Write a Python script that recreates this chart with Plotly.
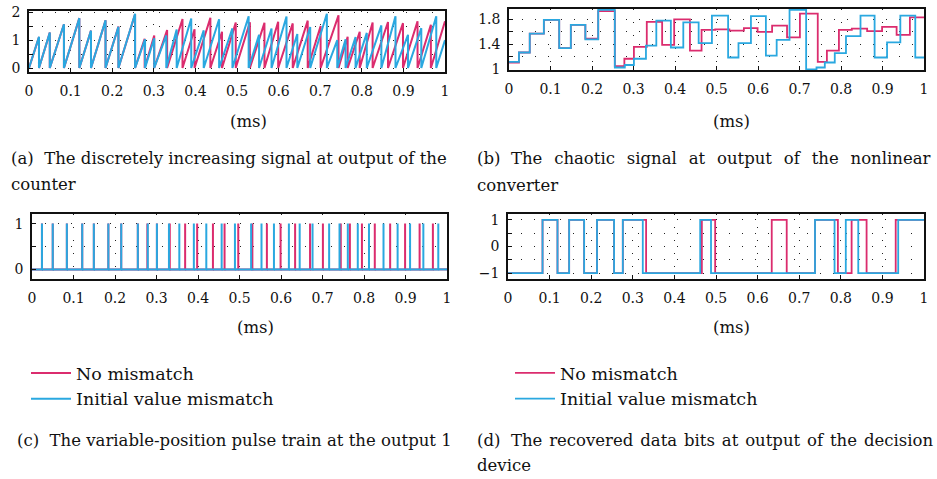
import plotly.graph_objects as go

# ---------------- data ----------------
# reset instants (ms) of the counter / chaotic sample-and-hold, and held chaotic levels
red_reset = [0.024, 0.050, 0.084, 0.121, 0.149, 0.184, 0.215, 0.255, 0.278, 0.301,
             0.332, 0.369, 0.398, 0.436, 0.464, 0.497, 0.531, 0.566, 0.599, 0.634,
             0.670, 0.701, 0.744, 0.766, 0.795, 0.826, 0.863, 0.899, 0.934, 0.966]
red_level = [1.11, 1.27, 1.57, 1.79, 1.34, 1.71, 1.49, 1.93, 1.05, 1.17,
             1.36, 1.76, 1.39, 1.80, 1.30, 1.63, 1.64, 1.62, 1.66, 1.60,
             1.70, 1.51, 1.89, 1.12, 1.30, 1.63, 1.65, 1.61, 1.68, 1.55, 1.83]
red_tail = 1.68   # counter value reached at t = 1 ms

blue_reset = [0.024, 0.050, 0.084, 0.121, 0.149, 0.184, 0.215, 0.255, 0.279, 0.301,
              0.330, 0.355, 0.390, 0.420, 0.457, 0.489, 0.528, 0.553, 0.583, 0.619,
              0.645, 0.676, 0.716, 0.741, 0.761, 0.785, 0.812, 0.847, 0.881, 0.911,
              0.943, 0.979]
blue_level = [1.12, 1.27, 1.57, 1.79, 1.34, 1.71, 1.48, 1.95, 1.03, 1.07,
              1.17, 1.38, 1.78, 1.35, 1.75, 1.42, 1.86, 1.19, 1.42, 1.85,
              1.22, 1.47, 1.95, 1.00, 1.03, 1.11, 1.26, 1.53, 1.86, 1.19,
              1.43, 1.86, 1.19]
blue_tail = 1.00

# recovered data bits (transition instants and levels)
red_bit_t = [0, 0.083, 0.119, 0.147, 0.183, 0.214, 0.255, 0.276, 0.332, 0.466,
             0.498, 0.634, 0.670, 0.738, 0.793, 0.826, 0.862, 0.932, 1.0]
red_bit_v = [-1, 1, -1, 1, -1, 1, -1, 1, -1, 1, -1, 1, -1, 1, -1, 1, -1, 1, 1]
blue_bit_t = [0, 0.083, 0.119, 0.147, 0.183, 0.214, 0.255, 0.276, 0.324, 0.462,
              0.488, 0.738, 0.785, 0.812, 0.842, 0.938, 1.0]
blue_bit_v = [-1, 1, -1, 1, -1, 1, -1, 1, -1, 1, -1, 1, -1, 1, -1, 1, 1]

x_ticks = [0, 0.1, 0.2, 0.3, 0.4, 0.5, 0.6, 0.7, 0.8, 0.9, 1]
x_ticktext = ["0", "0.1", "0.2", "0.3", "0.4", "0.5", "0.6", "0.7", "0.8", "0.9", "1"]

names = ["No mismatch", "Initial value mismatch"]
RED = "#DB2C6E"
BLUE = "#2AA8E0"
INK = "#111111"
FONT = "DejaVu Serif"
W, H = 937, 479


# ---------------- helpers building traces from the data ----------------
def sawtooth(resets, levels, tail):
    xs, ys = [0.0], [0.0]
    for t, v in zip(resets, levels):
        xs += [t, t]
        ys += [v, 0.0]
    xs.append(1.0)
    ys.append(tail)
    return xs, ys


def steps(resets, levels):
    xs = [0.0] + list(resets) + [1.0]
    ys = list(levels) + [levels[-1]]
    return xs, ys


def pulses(resets):
    xs, ys = [0.0], [0.0]
    for t in resets:
        xs += [t, t, t, None, t]
        ys += [0.0, 1.0, 0.0, None, 0.0]
    xs.append(1.0)
    ys.append(0.0)
    return xs, ys


fig = go.Figure()

series = [(red_reset, red_level, red_tail, red_bit_t, red_bit_v, RED, names[0]),
          (blue_reset, blue_level, blue_tail, blue_bit_t, blue_bit_v, BLUE, names[1])]

for resets, levels, tail, bt, bv, col, nm in series:
    xa, ya = sawtooth(resets, levels, tail)
    fig.add_trace(go.Scatter(x=xa, y=ya, mode="lines", line=dict(color=col, width=2),
                             xaxis="x", yaxis="y", showlegend=False, name=nm))
    xb, yb = steps(resets, levels)
    fig.add_trace(go.Scatter(x=xb, y=yb, mode="lines", line=dict(color=col, width=1.8, shape="hv"),
                             xaxis="x2", yaxis="y2", showlegend=False, name=nm))
    xc, yc = pulses(resets)
    fig.add_trace(go.Scatter(x=xc, y=yc, mode="lines", line=dict(color=col, width=2),
                             xaxis="x3", yaxis="y3", showlegend=True, legend="legend", name=nm))
    fig.add_trace(go.Scatter(x=bt, y=bv, mode="lines", line=dict(color=col, width=1.8, shape="hv"),
                             xaxis="x4", yaxis="y4", showlegend=True, legend="legend2", name=nm))


def px_dom(a, b):
    return [a / W, b / W]


def py_dom(top, bottom):
    return [1 - bottom / H, 1 - top / H]


common = dict(showline=True, mirror=True, linecolor=INK, linewidth=1.5,
              ticks="inside", ticklen=4, tickcolor=INK, showgrid=True,
              gridcolor="#222222", griddash="1px,12px", gridwidth=1, zeroline=False,
              automargin=False, tickfont=dict(family=FONT, size=14, color=INK))

def xaxis(dom, anchor):
    return dict(common, domain=dom, anchor=anchor, range=[0, 1], tickmode="array",
                tickvals=x_ticks, ticktext=x_ticktext, ticklabelstandoff=5)

def yaxis(dom, anchor, rng, tv, tt):
    return dict(common, domain=dom, anchor=anchor, range=rng, tickmode="array",
                tickvals=tv, ticktext=tt, ticklabelstandoff=4)

legend_font = dict(family=FONT, size=17.5, color=INK)
layout = dict(
    width=W, height=H, margin=dict(l=0, r=0, t=0, b=0, pad=0, autoexpand=False),
    paper_bgcolor="white", plot_bgcolor="white",
    xaxis=xaxis(px_dom(29, 445), "y"),
    yaxis=yaxis(py_dom(11, 72), "x", [-0.143, 2.046], [0, 0.5, 1, 1.5, 2], ["0", "", "1", "", "2"]),
    xaxis2=xaxis(px_dom(509, 924), "y2"),
    yaxis2=yaxis(py_dom(9, 70), "x2", [0.99, 1.965], [1, 1.2, 1.4, 1.6, 1.8], ["1", "", "1.4", "", "1.8"]),
    xaxis3=xaxis(px_dom(32, 447), "y3"),
    yaxis3=yaxis(py_dom(214, 279), "x3", [-0.21, 1.21], [0, 0.5, 1], ["0", "", "1"]),
    xaxis4=xaxis(px_dom(508, 924), "y4"),
    yaxis4=yaxis(py_dom(214, 279), "x4", [-1.22, 1.22], [-1, -0.5, 0, 0.5, 1], ["\u22121", "", "0", "", "1"]),
    legend=dict(x=26 / W, y=1 - 355 / H, xanchor="left", yanchor="top", itemwidth=40,
                font=legend_font, bgcolor="rgba(0,0,0,0)", tracegroupgap=0),
    legend2=dict(x=510 / W, y=1 - 355 / H, xanchor="left", yanchor="top", itemwidth=40,
                 font=legend_font, bgcolor="rgba(0,0,0,0)", tracegroupgap=0),
)
fig.update_layout(**layout)

def label(text, x, y, size=16.5):
    fig.add_annotation(text=text, x=x / W, y=1 - y / H, xref="paper", yref="paper",
                       xanchor="left", yanchor="middle", showarrow=False,
                       font=dict(family=FONT, size=size, color=INK))

def centered(text, x, y, size=16.5):
    fig.add_annotation(text=text, x=x / W, y=1 - y / H, xref="paper", yref="paper",
                       xanchor="center", yanchor="middle", showarrow=False,
                       font=dict(family=FONT, size=size, color=INK))

centered("(ms)", 248, 122)
centered("(ms)", 731, 122)
centered("(ms)", 255, 327)
centered("(ms)", 731, 327)

def justified(words, extra):
    # emulate the justified caption line with slightly widened word gaps
    return words[0] + "  " + (" " + extra).join(words[1:])

label("(a)  The discretely increasing signal at output of the", 9, 158)
label("counter", 9, 184)
label(justified(["(b)", "The", "chaotic", "signal", "at", "output", "of", "the", "nonlinear"],
                "\u2009\u2009"), 475, 158)
label("converter", 475, 185)
label("(c)  The variable-position pulse train at the output 1", 15, 440)
label(justified(["(d)", "The", "recovered", "data", "bits", "at", "output", "of", "the", "decision"],
                "\u200A"), 475, 440)
label("device", 475, 465)

fig.write_html("out.html")
